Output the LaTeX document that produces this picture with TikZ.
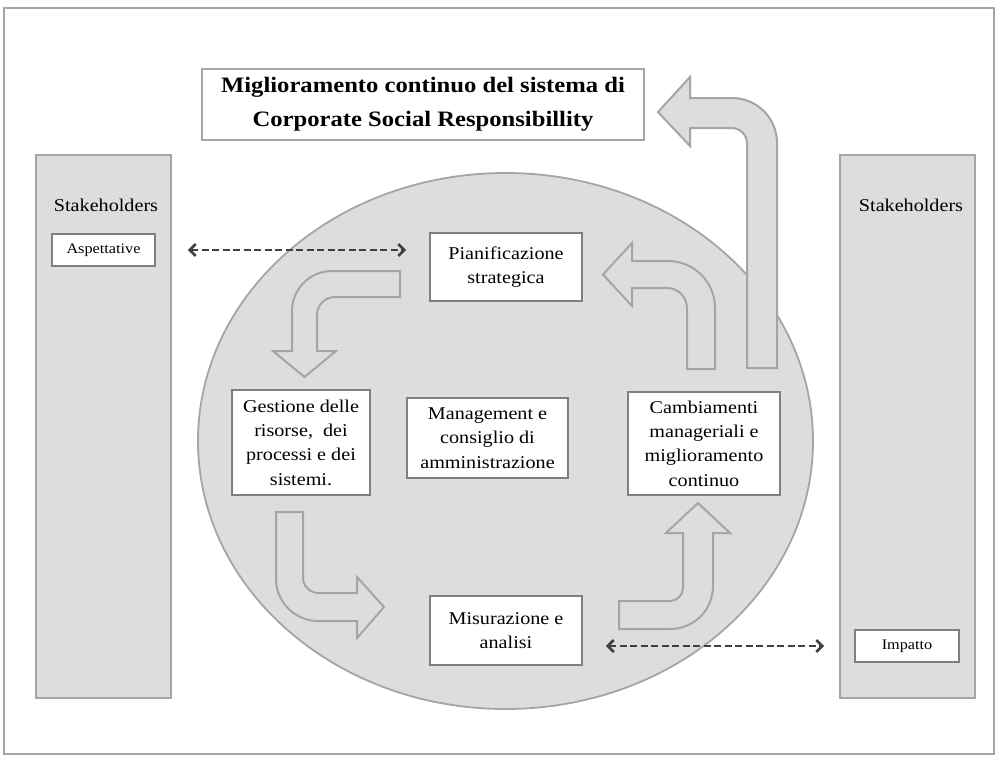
\documentclass[tikz,border=0pt]{standalone}
\usepackage{fontspec}
\setmainfont{Liberation Serif}[FakeStretch=1.12]
\usetikzlibrary{arrows.meta}
\definecolor{fillg}{HTML}{DDDDDD}
\definecolor{edgeg}{HTML}{A5A5A5}
\definecolor{boxg}{HTML}{7F7F7F}
\definecolor{dashg}{HTML}{404040}
\begin{document}
\begin{tikzpicture}[x=1pt,y=-1pt,
  panel/.style={fill=fillg,draw=edgeg,line width=2pt},
  bendarrow/.style={fill=fillg,draw=edgeg,line width=2pt,line join=miter},
  stagebox/.style={draw=boxg,fill=white,line width=1.8pt,align=center,inner sep=0pt,
    font=\fontsize{18}{24.3}\selectfont},
  smallbox/.style={draw=boxg,fill=white,line width=1.8pt,align=center,inner sep=0pt,
    font=\fontsize{14.5}{16}\selectfont},
  titlebox/.style={draw=edgeg,fill=white,line width=2pt,align=center,inner sep=0pt,
    font=\fontsize{22}{34}\selectfont\bfseries},
  sklabel/.style={font=\fontsize{18}{20}\selectfont,inner sep=0pt},
  link/.style={draw=dashg,line width=2.6pt,dash pattern=on 7pt off 3.5pt,
    {Straight Barb[length=6pt,width=12pt,line width=2.6pt]}-{Straight Barb[length=6pt,width=12pt,line width=2.6pt]}}
]
\useasboundingbox (0,0) rectangle (997,756);
\fill[white] (0,0) rectangle (997,756);
% outer frame
\draw[edgeg,line width=2pt] (4,8) rectangle (994,754);

% stakeholder columns
\draw[panel] (36,155) rectangle (171,698);
\draw[panel] (840,155) rectangle (975,698);

% central ellipse
\draw[panel,line width=1.8pt] (505.5,441) ellipse [x radius=307.5, y radius=268];

% bent arrows
% A: from Pianificazione to Gestione
\draw[bendarrow] (400,271) -- (332,271) .. controls (310,271) and (292,289) .. (292,311)
  -- (292,351) -- (273,351) -- (304.5,377) -- (336,351) -- (317,351) -- (317,315)
  .. controls (317,305) and (325,297) .. (335,297) -- (400,297) -- cycle;
% B: from Cambiamenti to Pianificazione
\draw[bendarrow] (687,369) -- (715,369) -- (715,308) .. controls (715,282) and (694,261) .. (668,261)
  -- (632,261) -- (632,243) -- (603,274.5) -- (632,306) -- (632,288) -- (667,288)
  .. controls (678,288) and (687,297) .. (687,308) -- cycle;
% C: from Cambiamenti to title
\draw[bendarrow] (747,368) -- (777,368) -- (777,143) .. controls (777,118) and (757,98) .. (732,98)
  -- (690,98) -- (690,77) -- (658,112) -- (690,146) -- (690,128) -- (732,128)
  .. controls (740,128) and (747,135) .. (747,143) -- cycle;
% D: from Gestione to Misurazione
\draw[bendarrow] (276,512) -- (303,512) -- (303,578) .. controls (303,586) and (310,593) .. (318,593)
  -- (357,593) -- (357,577) -- (384,607) -- (357,638) -- (357,621) -- (318,621)
  .. controls (295,621) and (276,602) .. (276,579) -- cycle;
% E: from Misurazione to Cambiamenti
\draw[bendarrow] (619,601) -- (670,601) .. controls (677,601) and (683,595) .. (683,588)
  -- (683,533) -- (666,533) -- (698,503) -- (730,533) -- (713,533) -- (713,586)
  .. controls (713,610) and (694,629) .. (670,629) -- (619,629) -- cycle;

% title
\node[titlebox,minimum width=442,minimum height=71] (title) at (423,104.5)
  {Miglioramento continuo del sistema di\\Corporate Social Responsibillity};

% stage boxes
\node[stagebox,minimum width=152,minimum height=68] (pian) at (506,267)
  {Pianificazione\\strategica};
\node[stagebox,minimum width=138,minimum height=105] (gest) at (301,442.5)
  {Gestione delle\\risorse,~ dei\\processi e dei\\sistemi.};
\node[stagebox,minimum width=161,minimum height=80] (mgmt) at (487.5,438)
  {Management e\\consiglio di\\amministrazione};
\node[stagebox,minimum width=152,minimum height=103] (camb) at (704,443.5)
  {Cambiamenti\\manageriali e\\miglioramento\\continuo};
\node[stagebox,minimum width=152,minimum height=69] (mis) at (506,630.5)
  {Misurazione e\\analisi};

% stakeholders
\node[sklabel] (skl) at (106,205) {Stakeholders};
\node[sklabel] (skr) at (911,205) {Stakeholders};
\node[smallbox,minimum width=103,minimum height=32] (asp) at (103.5,250) {Aspettative};
\node[smallbox,minimum width=104,minimum height=32] (imp) at (907,646) {Impatto};

% dashed links
\draw[link,shorten <=32pt,shorten >=23pt] (asp.east) -- (asp.east -| pian.west);
\draw[link,shorten <=23pt,shorten >=30pt] (imp.west -| mis.east) -- (imp.west);
\end{tikzpicture}
\end{document}
